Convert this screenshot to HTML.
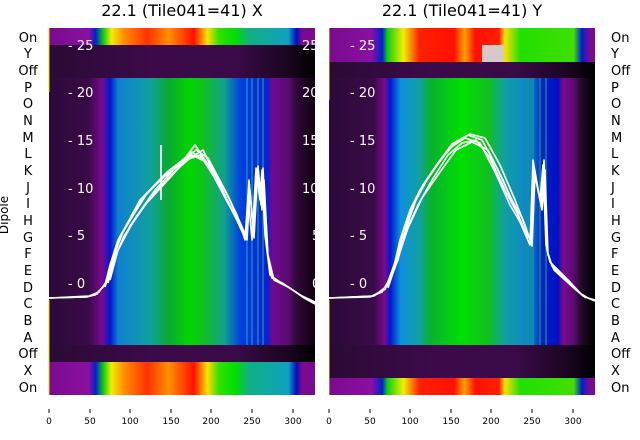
<!DOCTYPE html>
<html><head><meta charset="utf-8"><style>
html,body{margin:0;padding:0;background:#fff;width:640px;height:440px;overflow:hidden}
svg text{font-family:"DejaVu Sans","Liberation Sans",sans-serif}
</style></head><body>
<svg width="640" height="440" viewBox="0 0 640 440" xmlns="http://www.w3.org/2000/svg">
<defs>
<linearGradient id="rbL" x1="0" x2="1" y1="0" y2="0">
<stop offset="0" stop-color="#7a0a90"/><stop offset=".15" stop-color="#8a10a0"/><stop offset=".175" stop-color="#0020d0"/><stop offset=".205" stop-color="#10d010"/><stop offset=".235" stop-color="#f0f000"/><stop offset=".28" stop-color="#ff9000"/><stop offset=".37" stop-color="#ff3000"/><stop offset=".45" stop-color="#ff9000"/><stop offset=".545" stop-color="#ff1000"/><stop offset=".595" stop-color="#ffe000"/><stop offset=".64" stop-color="#30e000"/><stop offset=".7" stop-color="#00e000"/><stop offset=".75" stop-color="#10b080"/><stop offset=".9" stop-color="#10a0c0"/><stop offset=".93" stop-color="#0010c0"/><stop offset=".95" stop-color="#7a0a90"/><stop offset="1" stop-color="#7a0a90"/>
</linearGradient>
<linearGradient id="rbR" x1="0" x2="1" y1="0" y2="0">
<stop offset="0" stop-color="#7a0a90"/><stop offset=".16" stop-color="#8a10a0"/><stop offset=".2" stop-color="#0020d0"/><stop offset=".22" stop-color="#10d010"/><stop offset=".28" stop-color="#f0f000"/><stop offset=".34" stop-color="#ff2000"/><stop offset=".47" stop-color="#ff1000"/><stop offset=".51" stop-color="#ffa000"/><stop offset=".55" stop-color="#ff1000"/><stop offset=".64" stop-color="#ff2000"/><stop offset=".66" stop-color="#ffe000"/><stop offset=".72" stop-color="#20e000"/><stop offset=".92" stop-color="#40e000"/><stop offset=".95" stop-color="#0020d0"/><stop offset=".98" stop-color="#7a0a90"/><stop offset="1" stop-color="#7a0a90"/>
</linearGradient>
<linearGradient id="dk" x1="0" x2="1" y1="0" y2="0">
<stop offset="0" stop-color="#2a0a35"/><stop offset=".4" stop-color="#3c0a4a"/><stop offset=".7" stop-color="#3a0a48"/><stop offset=".9" stop-color="#1a0520"/><stop offset="1" stop-color="#000"/>
</linearGradient>
<linearGradient id="mdL" x1="0" x2="1" y1="0" y2="0">
<stop offset="0" stop-color="#2a0a38"/><stop offset=".15" stop-color="#3a0a48"/><stop offset=".2" stop-color="#7a0a90"/><stop offset=".23" stop-color="#0018d0"/><stop offset=".26" stop-color="#1080d0"/><stop offset=".38" stop-color="#10a0a0"/><stop offset=".45" stop-color="#08a830"/><stop offset=".53" stop-color="#00d800"/><stop offset=".58" stop-color="#10c020"/><stop offset=".66" stop-color="#10a090"/><stop offset=".72" stop-color="#0040e0"/><stop offset=".82" stop-color="#0820d0"/><stop offset=".84" stop-color="#700a90"/><stop offset=".9" stop-color="#5a0a70"/><stop offset=".93" stop-color="#300838"/><stop offset="1" stop-color="#100010"/>
</linearGradient>
<linearGradient id="mdR" x1="0" x2="1" y1="0" y2="0">
<stop offset="0" stop-color="#2a0a38"/><stop offset=".17" stop-color="#3a0a48"/><stop offset=".21" stop-color="#7a0a90"/><stop offset=".23" stop-color="#0018d0"/><stop offset=".27" stop-color="#1090e0"/><stop offset=".34" stop-color="#10a0a0"/><stop offset=".38" stop-color="#08b030"/><stop offset=".5" stop-color="#00e000"/><stop offset=".6" stop-color="#10c020"/><stop offset=".66" stop-color="#10a0a0"/><stop offset=".76" stop-color="#1080d0"/><stop offset=".8" stop-color="#0020d0"/><stop offset=".86" stop-color="#0010c0"/><stop offset=".88" stop-color="#7a0a90"/><stop offset=".92" stop-color="#5a0a70"/><stop offset=".95" stop-color="#200828"/><stop offset="1" stop-color="#000"/>
</linearGradient>
</defs>

<text x="182" y="16" font-size="16" text-anchor="middle" fill="#000">22.1 (Tile041=41) X</text>
<text x="462" y="16" font-size="16" text-anchor="middle" fill="#000">22.1 (Tile041=41) Y</text>

<rect x="49" y="28" width="266" height="17" fill="url(#rbL)"/>
<rect x="49" y="45" width="266" height="33" fill="url(#dk)"/>
<rect x="49" y="78" width="266" height="267" fill="url(#mdL)"/>
<rect x="49" y="345" width="266" height="17" fill="url(#dk)"/>
<rect x="49" y="362" width="266" height="33" fill="url(#rbL)"/>
<g stroke="#10a0b0" stroke-width="1.2"><line x1="247" y1="78" x2="247" y2="345"/><line x1="252" y1="78" x2="252" y2="345"/><line x1="258" y1="78" x2="258" y2="345"/><line x1="263" y1="78" x2="263" y2="345"/></g>
<line x1="49" y1="28" x2="49" y2="92" stroke="#e0e000" stroke-width="1"/>
<line x1="49" y1="300" x2="49" y2="395" stroke="#e0e000" stroke-width="1"/>

<rect x="329" y="28" width="266" height="34" fill="url(#rbR)"/>
<rect x="482" y="45" width="22" height="17" fill="#d8c8c8"/>
<rect x="329" y="62" width="266" height="16" fill="url(#dk)"/>
<rect x="329" y="78" width="266" height="267" fill="url(#mdR)"/>
<rect x="329" y="345" width="266" height="33" fill="url(#dk)"/>
<rect x="329" y="378" width="266" height="17" fill="url(#rbR)"/>
<g stroke="#10a070" stroke-width="1.2"><line x1="528" y1="78" x2="528" y2="345"/><line x1="533" y1="78" x2="533" y2="345"/><line x1="540" y1="78" x2="540" y2="345"/><line x1="546" y1="78" x2="546" y2="345"/></g>
<line x1="329" y1="28" x2="329" y2="100" stroke="#e0e000" stroke-width="1"/>
<line x1="329" y1="300" x2="329" y2="395" stroke="#e0e000" stroke-width="1"/>

<g fill="none" stroke="#fff" stroke-width="1.6" stroke-linejoin="round">
<polyline points="49,298 85,297 95,295 105,285 110,265 118,240 128,222 140,200 165,176 180,165 195,145 205,160 225,190 237,215 245,240 248,195 252,240 256,168 260,200 262,170 265,235 270,275 280,282 290,288 300,295 315,302"/>
<polyline points="49,298 87,297 97,294 107,282 112,260 120,237 131,218 143,197 167,172 183,160 196,150 208,158 227,194 239,220 246,236 249,180 253,230 257,172 261,205 263,168 267,250 272,278 284,284 294,291 304,298 315,303"/>
<polyline points="49,298 89,296 99,292 109,278 114,255 123,232 134,214 146,195 170,170 185,158 192,152 210,165 229,198 240,225 247,240 250,190 254,238 258,166 262,210 264,180 268,255 274,280 286,286 296,292 306,299 315,304"/>
<polyline points="105,287 113,262 124,236 145,205 168,180 186,160 200,155 216,180 232,210 243,232"/>
<polyline points="108,283 116,254 130,226 150,198 172,174 190,158 203,150 220,185 235,216 244,236"/>
<polyline points="110,280 118,250 134,220 155,190 175,168 192,155 206,162 222,192 238,222"/>
<line x1="161" y1="145" x2="161" y2="200"/>
<polyline points="329,298 370,297 382,292 392,275 400,240 410,210 420,190 435,168 450,148 465,138 480,143 495,172 510,205 520,222 530,245 533,160 540,200 543,165 546,245 550,262 560,272 570,282 580,293 588,298 595,300"/>
<polyline points="329,298 372,296 384,290 395,268 403,232 413,205 423,185 438,163 452,144 468,135 482,140 497,168 512,200 522,218 531,242 534,170 541,205 544,160 547,250 552,266 562,276 573,286 583,296 595,301"/>
<polyline points="329,298 374,296 387,286 398,260 406,228 416,200 427,180 442,158 456,142 470,134 485,138 500,165 515,200 525,225 532,246 535,175 542,210 545,170 548,255 554,270 565,280 576,290 586,298"/>
<polyline points="385,290 394,265 404,235 418,205 432,180 448,155 462,143 476,140 490,158 505,190 518,215 528,238"/>
<polyline points="388,288 398,258 408,228 422,198 440,172 456,150 472,142 488,150 503,180 516,210 527,236"/>
</g>

<g font-size="13" fill="#fff">
<text x="68" y="50">- 25</text><text x="68" y="97">- 20</text><text x="68" y="145">- 15</text><text x="68" y="193">- 10</text><text x="68" y="240">- 5</text><text x="68" y="288">- 0</text>
<text x="350" y="50">- 25</text><text x="350" y="97">- 20</text><text x="350" y="145">- 15</text><text x="350" y="193">- 10</text><text x="350" y="240">- 5</text><text x="350" y="288">- 0</text>
<text x="302" y="50">25</text><text x="302" y="97">20</text><text x="302" y="145">15</text><text x="302" y="193">10</text><text x="312" y="240">5</text><text x="312" y="288">0</text>
</g>
<rect x="315" y="28" width="14" height="370" fill="#fff"/>
<rect x="595" y="28" width="10" height="370" fill="#fff"/>

<g font-size="13" fill="#000" text-anchor="middle">
<text x="28" y="42">On</text><text x="28" y="58">Y</text><text x="28" y="75">Off</text><text x="28" y="92">P</text><text x="28" y="108">O</text><text x="28" y="125">N</text><text x="28" y="142">M</text><text x="28" y="158">L</text><text x="28" y="175">K</text><text x="28" y="192">J</text><text x="28" y="208">I</text><text x="28" y="225">H</text><text x="28" y="242">G</text><text x="28" y="258">F</text><text x="28" y="275">E</text><text x="28" y="292">D</text><text x="28" y="308">C</text><text x="28" y="325">B</text><text x="28" y="342">A</text><text x="28" y="358">Off</text><text x="28" y="375">X</text><text x="28" y="392">On</text>
</g>
<g font-size="13" fill="#000" text-anchor="start">
<text x="611" y="42">On</text><text x="611" y="58">Y</text><text x="611" y="75">Off</text><text x="611" y="92">P</text><text x="611" y="108">O</text><text x="611" y="125">N</text><text x="611" y="142">M</text><text x="611" y="158">L</text><text x="611" y="175">K</text><text x="611" y="192">J</text><text x="611" y="208">I</text><text x="611" y="225">H</text><text x="611" y="242">G</text><text x="611" y="258">F</text><text x="611" y="275">E</text><text x="611" y="292">D</text><text x="611" y="308">C</text><text x="611" y="325">B</text><text x="611" y="342">A</text><text x="611" y="358">Off</text><text x="611" y="375">X</text><text x="611" y="392">On</text>
</g>
<text transform="translate(8,215) rotate(-90)" font-size="12" fill="#000" text-anchor="middle">Dipole</text>

<g stroke="#000" stroke-width="1">
<line x1="49" y1="409" x2="49" y2="413"/><line x1="90" y1="409" x2="90" y2="413"/><line x1="130" y1="409" x2="130" y2="413"/><line x1="171" y1="409" x2="171" y2="413"/><line x1="211" y1="409" x2="211" y2="413"/><line x1="252" y1="409" x2="252" y2="413"/><line x1="293" y1="409" x2="293" y2="413"/>
<line x1="329" y1="409" x2="329" y2="413"/><line x1="370" y1="409" x2="370" y2="413"/><line x1="410" y1="409" x2="410" y2="413"/><line x1="451" y1="409" x2="451" y2="413"/><line x1="491" y1="409" x2="491" y2="413"/><line x1="532" y1="409" x2="532" y2="413"/><line x1="573" y1="409" x2="573" y2="413"/>
</g>
<g font-size="9" fill="#000" text-anchor="middle">
<text x="49" y="424">0</text><text x="90" y="424">50</text><text x="130" y="424">100</text><text x="171" y="424">150</text><text x="211" y="424">200</text><text x="252" y="424">250</text><text x="293" y="424">300</text>
<text x="329" y="424">0</text><text x="370" y="424">50</text><text x="410" y="424">100</text><text x="451" y="424">150</text><text x="491" y="424">200</text><text x="532" y="424">250</text><text x="573" y="424">300</text>
</g>
</svg>
</body></html>
